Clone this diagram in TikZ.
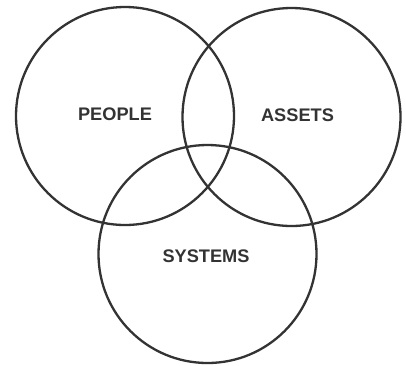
\documentclass[tikz,border=0pt]{standalone}
\usepackage{fontspec}
\setmainfont{Liberation Sans}
\definecolor{ink}{HTML}{333333}
\tikzset{
  ring/.style={draw=ink, line width=2.3pt},
  tag/.style={text=ink, font=\fontsize{18.2}{20}\selectfont\bfseries, inner sep=0pt}
}
\begin{document}
\begin{tikzpicture}[x=1pt,y=-1pt]
\useasboundingbox (0,0) rectangle (406,365);
% the three sets
\foreach \name/\cx/\cy in {people/125/116,assets/291.5/117,systems/207.5/254}{
  \draw[ring] (\cx,\cy) circle (109);
}
\node[tag] (people) at (115,114) {PEOPLE};
\node[tag] (assets) at (297.5,115) {ASSETS};
\node[tag] (systems) at (206,256) {SYSTEMS};
\end{tikzpicture}
\end{document}
